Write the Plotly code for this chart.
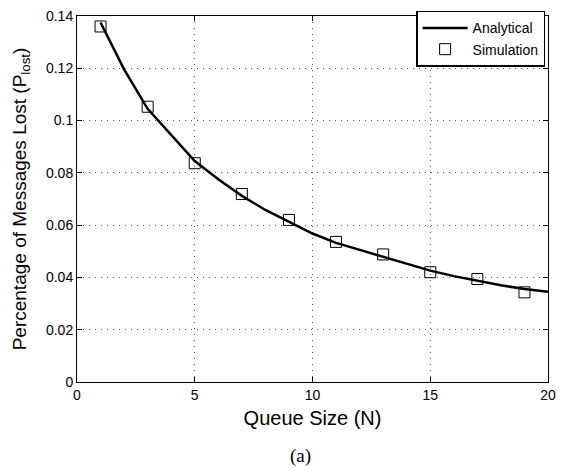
import plotly.graph_objects as go

queue_size = list(range(1, 21))
analytical = [0.1375, 0.1196, 0.1045, 0.0947, 0.0845, 0.0776, 0.0712, 0.0658, 0.0614, 0.0568,
              0.0532, 0.0505, 0.0478, 0.0452, 0.0426, 0.0405, 0.0387, 0.0370, 0.0356, 0.0345]
sim_n = [1, 3, 5, 7, 9, 11, 13, 15, 17, 19]
simulation = [0.1360, 0.1053, 0.0837, 0.0719, 0.0620, 0.0536, 0.0488, 0.0420, 0.0394, 0.0343]

x_ticks = [0, 5, 10, 15, 20]
y_ticks = [0, 0.02, 0.04, 0.06, 0.08, 0.1, 0.12, 0.14]
y_tick_text = ["0", "0.02", "0.04", "0.06", "0.08", "0.1", "0.12", "0.14"]

font = "Liberation Sans"

fig = go.Figure()
fig.add_trace(go.Scatter(x=queue_size, y=analytical, mode="lines", name="Analytical",
                         line=dict(color="black", width=2.5)))
fig.add_trace(go.Scatter(x=sim_n, y=simulation, mode="markers", name="Simulation",
                         marker=dict(symbol="square-open", size=11, color="black",
                                     line=dict(width=1, color="black"))))

axis_common = dict(showline=True, linecolor="black", linewidth=1, mirror="ticks",
                   ticks="inside", ticklen=5, tickcolor="black",
                   showgrid=True, gridcolor="#555", griddash="1px,5px", gridwidth=1,
                   zeroline=False, tickfont=dict(family=font, size=14, color="black"))

fig.update_xaxes(range=[0, 20.0001], tickvals=x_ticks, **axis_common,
                 title=dict(text="Queue Size (N)", font=dict(family=font, size=20, color="black"),
                            standoff=9))
fig.update_yaxes(range=[0, 0.14001], tickvals=y_ticks, ticktext=y_tick_text, **axis_common,
                 title=dict(text="Percentage of Messages Lost (P<sub>lost</sub>)",
                            font=dict(family=font, size=19, color="black"), standoff=14))

fig.add_annotation(text="(a)", xref="paper", yref="paper", x=0.474, y=-0.201,
                   xanchor="center", yanchor="middle", showarrow=False,
                   font=dict(family="Liberation Serif", size=19, color="black"))

fig.update_layout(
    width=564, height=471,
    margin=dict(l=77, r=9, t=8, b=89),
    paper_bgcolor="white", plot_bgcolor="white",
    font=dict(family=font, color="black"),
    showlegend=True,
    legend=dict(x=0.72, y=1.014, xanchor="left", yanchor="top",
                bgcolor="white", bordercolor="black", borderwidth=1.5,
                font=dict(family=font, size=14, color="black"),
                tracegroupgap=0, itemwidth=45),
)

fig.write_html("out.html", config={"displayModeBar": False},
               post_script="document.body.style.margin='0';")
